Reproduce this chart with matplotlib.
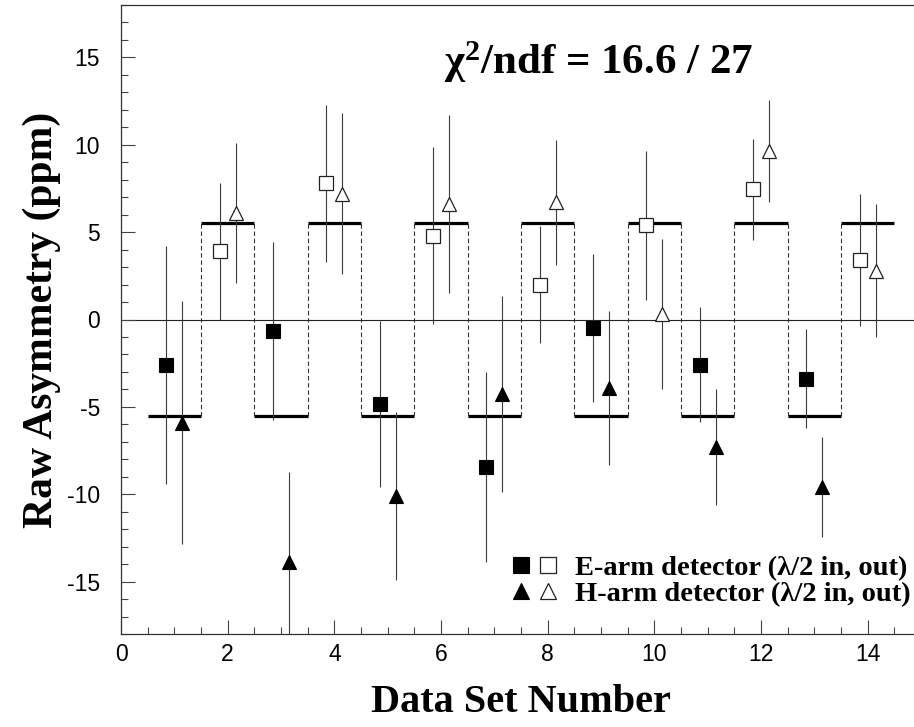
import numpy as np
import matplotlib
matplotlib.use("Agg")
import matplotlib.pyplot as plt
from matplotlib.ticker import MultipleLocator
from matplotlib.legend_handler import HandlerTuple
from matplotlib.font_manager import FontProperties

plt.rcParams['axes.unicode_minus'] = False
plt.rcParams['mathtext.fontset'] = 'custom'
plt.rcParams['mathtext.rm'] = 'Liberation Serif:bold'
plt.rcParams['mathtext.it'] = 'Liberation Serif:italic:bold'
plt.rcParams['mathtext.bf'] = 'Liberation Serif:bold'

# ---------------- data ----------------
data_set = [1, 2, 3, 4, 5, 6, 7, 8, 9, 10, 11, 12, 13, 14]
halfwave_in = [True, False, True, False, True, False, True,
               False, True, False, True, False, True, False]
e_arm_asym = [-2.6, 3.9, -0.65, 7.8, -4.83, 4.8, -8.45, 2.0, -0.48, 5.4, -2.58, 7.45, -3.4, 3.4]
e_arm_err = [6.8, 3.9, 5.1, 4.5, 4.75, 5.05, 5.45, 3.37, 4.24, 4.27, 3.3, 2.9, 2.83, 3.8]
h_arm_asym = [-5.9, 6.1, -13.9, 7.2, -10.1, 6.6, -4.25, 6.7, -3.9, 0.3, -7.3, 9.65, -9.6, 2.8]
h_arm_err = [6.95, 4.0, 5.2, 4.6, 4.8, 5.1, 5.6, 3.6, 4.4, 4.3, 3.3, 2.93, 2.85, 3.8]
fit_asym = [-5.55, 5.55, -5.55, 5.55, -5.55, 5.55, -5.55,
            5.55, -5.55, 5.55, -5.55, 5.55, -5.55, 5.55]
chi2_text = '\u03c7$^2$/ndf = 16.6 / 27'
legend_labels = ['E-arm detector (\u03bb/2 in, out)', 'H-arm detector (\u03bb/2 in, out)']
x_label = 'Data Set Number'
y_label = 'Raw Asymmetry (ppm)'

# ---------------- figure ----------------
W, H = 914, 727
fig = plt.figure(figsize=(W / 100, H / 100), dpi=100)
ax = fig.add_axes([121 / W, (H - 634) / H, 800 / W, 629 / H])
ax.set_xlim(0, 15)
ax.set_ylim(-18, 18)

ds = np.array(data_set, dtype=float)
inn = np.array(halfwave_in)
e_y = np.array(e_arm_asym); e_e = np.array(e_arm_err)
h_y = np.array(h_arm_asym); h_e = np.array(h_arm_err)
fit = np.array(fit_asym)
off = 0.15
xe = ds - off
xh = ds + off

# zero line
ax.axhline(0, color='#222222', lw=0.8, zorder=1)

# fit model: horizontal bars + dashed connectors
ax.hlines(fit, ds - 0.5, ds + 0.5, colors='black', lw=2.3, zorder=2)
bx = ds[:-1] + 0.5
ax.vlines(bx, np.minimum(fit[:-1], fit[1:]), np.maximum(fit[:-1], fit[1:]),
          colors='#333333', lw=0.8, linestyles=(0, (4, 2.5)), zorder=2)

# error bars
ax.errorbar(xe, e_y, yerr=e_e, fmt='none', ecolor='#3a3a3a', elinewidth=0.8, capsize=0, zorder=3)
ax.errorbar(xh, h_y, yerr=h_e, fmt='none', ecolor='#3a3a3a', elinewidth=0.8, capsize=0, zorder=3)

# markers
ms_sq = 9.6
ms_tr = 9.4
e_in, = ax.plot(xe[inn], e_y[inn], 's', ms=ms_sq, mfc='black', mec='black', mew=0.8, ls='none', zorder=4)
e_out, = ax.plot(xe[~inn], e_y[~inn], 's', ms=ms_sq, mfc='white', mec='#222222', mew=0.9, ls='none', zorder=4)
h_in, = ax.plot(xh[inn], h_y[inn], '^', ms=ms_tr, mfc='black', mec='black', mew=0.8, ls='none', zorder=4)
h_out, = ax.plot(xh[~inn], h_y[~inn], '^', ms=ms_tr, mfc='white', mec='#222222', mew=0.9, ls='none', zorder=4)

# chi2 text
ax.text(0.404, 0.891, chi2_text, transform=ax.transAxes, ha='left', va='baseline',
        fontsize=31, fontfamily='Liberation Serif', fontweight='bold')

# legend
leg = ax.legend([(e_in, e_out), (h_in, h_out)], legend_labels,
                handler_map={tuple: HandlerTuple(ndivide=None, pad=0.0)},
                loc='lower right', bbox_to_anchor=(0.987, 0.043),
                frameon=False, borderpad=0, borderaxespad=0,
                handlelength=1.95, handletextpad=0.45, labelspacing=0.0,
                markerscale=1.15,
                prop=FontProperties(family='Liberation Serif', weight='bold', size=20.5))

# ticks
ax.set_xticks([0, 2, 4, 6, 8, 10, 12, 14])
ax.set_yticks([-15, -10, -5, 0, 5, 10, 15])
ax.xaxis.set_minor_locator(MultipleLocator(0.5))
ax.yaxis.set_minor_locator(MultipleLocator(1))
ax.tick_params(which='both', direction='in', color='#444444', width=0.8)
ax.tick_params(which='major', length=10)
ax.tick_params(which='minor', length=5)
ax.tick_params(axis='x', which='major', pad=6.3, labelsize=16.5)
ax.tick_params(axis='y', which='major', pad=15, labelsize=16.5)
for lab in ax.get_xticklabels() + ax.get_yticklabels():
    lab.set_fontfamily('Liberation Sans')

for s in ['left', 'top', 'bottom']:
    ax.spines[s].set_color('#333333')
    ax.spines[s].set_linewidth(0.9)
ax.spines['right'].set_visible(False)

ax.set_xlabel(x_label, fontsize=29, fontfamily='Liberation Serif', fontweight='bold')
ax.set_ylabel(y_label, fontsize=30, fontfamily='Liberation Serif', fontweight='bold')
ax.xaxis.set_label_coords(0.5, -0.079)
ax.yaxis.set_label_coords(-0.075, 0.5)

fig.savefig('out.png', dpi=100)
